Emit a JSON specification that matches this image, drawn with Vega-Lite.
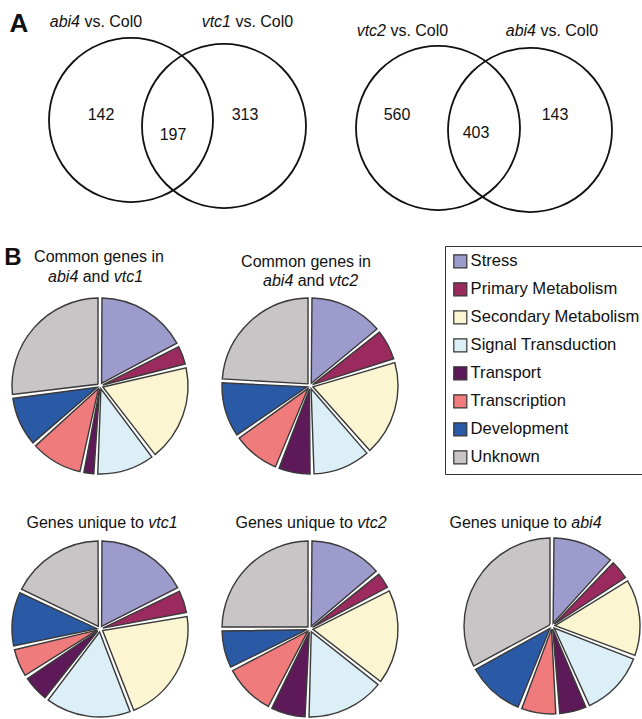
{
  "$schema": "https://vega.github.io/schema/vega-lite/v6.json",
  "padding": 0,
  "background": "white",
  "config": {
    "view": {"stroke": null},
    "font": "Liberation Sans",
    "text": {"font": "Liberation Sans", "fontSize": 16, "color": "#111", "baseline": "middle"},
    "range": {"category": ["#9d9bcb", "#9b2a5e", "#fbf5d2", "#ddeff6", "#5e1a58", "#ef7b7c", "#2a5aa6", "#c9c4c6"]}
  },
  "datasets": {
    "common_vtc1": [
      {"category": "Stress", "genes": 34},
      {"category": "Primary Metabolism", "genes": 8},
      {"category": "Secondary Metabolism", "genes": 36},
      {"category": "Signal Transduction", "genes": 22},
      {"category": "Transport", "genes": 5},
      {"category": "Transcription", "genes": 20},
      {"category": "Development", "genes": 19},
      {"category": "Unknown", "genes": 53}
    ],
    "common_vtc2": [
      {"category": "Stress", "genes": 57},
      {"category": "Primary Metabolism", "genes": 25},
      {"category": "Secondary Metabolism", "genes": 73},
      {"category": "Signal Transduction", "genes": 45},
      {"category": "Transport", "genes": 26},
      {"category": "Transcription", "genes": 37},
      {"category": "Development", "genes": 43},
      {"category": "Unknown", "genes": 97}
    ],
    "unique_vtc1": [
      {"category": "Stress", "genes": 55},
      {"category": "Primary Metabolism", "genes": 15},
      {"category": "Secondary Metabolism", "genes": 68},
      {"category": "Signal Transduction", "genes": 51},
      {"category": "Transport", "genes": 17},
      {"category": "Transcription", "genes": 18},
      {"category": "Development", "genes": 33},
      {"category": "Unknown", "genes": 56}
    ],
    "unique_vtc2": [
      {"category": "Stress", "genes": 78},
      {"category": "Primary Metabolism", "genes": 20},
      {"category": "Secondary Metabolism", "genes": 101},
      {"category": "Signal Transduction", "genes": 84},
      {"category": "Transport", "genes": 39},
      {"category": "Transcription", "genes": 56},
      {"category": "Development", "genes": 42},
      {"category": "Unknown", "genes": 140}
    ],
    "unique_abi4": [
      {"category": "Stress", "genes": 17},
      {"category": "Primary Metabolism", "genes": 6},
      {"category": "Secondary Metabolism", "genes": 21},
      {"category": "Signal Transduction", "genes": 18},
      {"category": "Transport", "genes": 8},
      {"category": "Transcription", "genes": 10},
      {"category": "Development", "genes": 16},
      {"category": "Unknown", "genes": 47}
    ]
  },
  "resolve": {"legend": {"color": "independent"}},
  "spacing": 0,
  "vconcat": [
    {
      "spacing": 0,
      "hconcat": [
        {
          "width": 321,
          "height": 245,
          "resolve": {"scale": {"x": "independent", "y": "independent"}},
          "layer": [
            {
              "data": {"values": [{"set": "abi4"}, {"set": "vtc1"}]},
              "mark": {"type": "point", "shape": "circle", "size": 26896, "filled": false, "stroke": "#111", "strokeWidth": 1.8, "opacity": 1},
              "encoding": {
                "x": {"field": "set", "type": "nominal", "sort": null, "axis": null, "scale": {"type": "point", "padding": 0, "range": [131, 224]}},
                "y": {"field": "set", "type": "nominal", "sort": null, "axis": null, "scale": {"type": "point", "padding": 0, "range": [120, 126]}}
              }
            },
            {
              "data": {"values": [
                {"region": "abi4 only", "kind": "unique", "genes": 142},
                {"region": "both", "kind": "shared", "genes": 197},
                {"region": "vtc1 only", "kind": "unique", "genes": 313}
              ]},
              "mark": {"type": "text", "fontSize": 16},
              "encoding": {
                "x": {"field": "region", "type": "nominal", "sort": null, "axis": null, "scale": {"type": "point", "padding": 0, "range": [101, 245]}},
                "y": {"field": "kind", "type": "nominal", "sort": ["unique", "shared"], "axis": null, "scale": {"type": "point", "padding": 0, "range": [115, 135]}},
                "text": {"field": "genes", "type": "quantitative"}
              }
            },
            {
              "data": {"values": [{"set": "abi4", "name": "abi4", "rest": "vs. Col0"}, {"set": "vtc1", "name": "vtc1", "rest": "vs. Col0"}]},
              "layer": [
                {"mark": {"type": "text", "align": "right", "fontStyle": "italic", "dy": -100.5}, "encoding": {"text": {"field": "name"}}},
                {"mark": {"type": "text", "align": "left", "dx": 4.4, "dy": -100.5}, "encoding": {"text": {"field": "rest"}}}
              ],
              "encoding": {
                "x": {"field": "set", "type": "nominal", "sort": null, "axis": null, "scale": {"type": "point", "padding": 0, "range": [80, 231]}}
              }
            },
            {
              "data": {"values": [{}]},
              "mark": {"type": "text", "text": "A", "fontSize": 26, "fontWeight": "bold", "dx": -141.5, "dy": -99},
              "encoding": {}
            }
          ]
        },
        {
          "width": 321,
          "height": 245,
          "resolve": {"scale": {"x": "independent", "y": "independent"}},
          "layer": [
            {
              "data": {"values": [{"set": "vtc2"}, {"set": "abi4"}]},
              "mark": {"type": "point", "shape": "circle", "size": 26896, "filled": false, "stroke": "#111", "strokeWidth": 1.8, "opacity": 1},
              "encoding": {
                "x": {"field": "set", "type": "nominal", "sort": null, "axis": null, "scale": {"type": "point", "padding": 0, "range": [117, 209]}},
                "y": {"field": "set", "type": "nominal", "sort": null, "axis": null, "scale": {"type": "point", "padding": 0, "range": [128, 130]}}
              }
            },
            {
              "data": {"values": [
                {"region": "vtc2 only", "kind": "unique", "genes": 560},
                {"region": "both", "kind": "shared", "genes": 403},
                {"region": "abi4 only", "kind": "unique", "genes": 143}
              ]},
              "mark": {"type": "text", "fontSize": 16},
              "encoding": {
                "x": {"field": "region", "type": "nominal", "sort": null, "axis": null, "scale": {"type": "point", "padding": 0, "range": [76, 234]}},
                "y": {"field": "kind", "type": "nominal", "sort": ["unique", "shared"], "axis": null, "scale": {"type": "point", "padding": 0, "range": [115, 133]}},
                "text": {"field": "genes", "type": "quantitative"}
              }
            },
            {
              "data": {"values": [{"set": "vtc2", "name": "vtc2", "rest": "vs. Col0"}, {"set": "abi4", "name": "abi4", "rest": "vs. Col0"}]},
              "layer": [
                {"mark": {"type": "text", "align": "right", "fontStyle": "italic", "dy": -91.5}, "encoding": {"text": {"field": "name"}}},
                {"mark": {"type": "text", "align": "left", "dx": 4.4, "dy": -91.5}, "encoding": {"text": {"field": "rest"}}}
              ],
              "encoding": {
                "x": {"field": "set", "type": "nominal", "sort": null, "axis": null, "scale": {"type": "point", "padding": 0, "range": [65, 215]}}
              }
            }
          ]
        }
      ]
    },
    {
      "spacing": 10,
      "resolve": {"legend": {"color": "independent"}},
      "hconcat": [
        {
          "width": 200,
          "height": 256,
          "layer": [
            {
              "data": {"name": "common_vtc1"},
              "transform": [{"window": [{"op": "row_number", "as": "slice"}]}],
              "mark": {"type": "arc", "outerRadius": 88, "innerRadius": 3, "padAngle": 0.045, "stroke": "#3a3a3a", "strokeWidth": 1.4, "yOffset": 12},
              "encoding": {
                "theta": {"field": "genes", "type": "quantitative", "stack": true},
                "order": {"field": "slice", "type": "quantitative"},
                "color": {"field": "category", "type": "nominal", "scale": {"domain": ["Stress", "Primary Metabolism", "Secondary Metabolism", "Signal Transduction", "Transport", "Transcription", "Development", "Unknown"]}, "legend": null}
              }
            },
            {"data": {"values": [{}]}, "mark": {"type": "text", "text": "B", "fontSize": 24, "fontWeight": "bold", "dx": -87, "dy": -116}, "encoding": {}},
            {"data": {"values": [{}]}, "mark": {"type": "text", "text": "Common genes in", "dx": -1, "dy": -117}, "encoding": {}},
            {"data": {"values": [{}]}, "mark": {"type": "text", "text": "abi4", "fontStyle": "italic", "align": "right", "dx": -21.7, "dy": -97}, "encoding": {}},
            {"data": {"values": [{}]}, "mark": {"type": "text", "text": "and", "dx": -4, "dy": -97}, "encoding": {}},
            {"data": {"values": [{}]}, "mark": {"type": "text", "text": "vtc1", "fontStyle": "italic", "align": "left", "dx": 13.7, "dy": -97}, "encoding": {}}
          ]
        },
        {
          "width": 200,
          "height": 256,
          "layer": [
            {
              "data": {"name": "common_vtc2"},
              "transform": [{"window": [{"op": "row_number", "as": "slice"}]}],
              "mark": {"type": "arc", "outerRadius": 88, "innerRadius": 3, "padAngle": 0.045, "stroke": "#3a3a3a", "strokeWidth": 1.4, "yOffset": 12},
              "encoding": {
                "theta": {"field": "genes", "type": "quantitative", "stack": true},
                "order": {"field": "slice", "type": "quantitative"},
                "color": {
                  "field": "category", "type": "nominal",
                  "scale": {"domain": ["Stress", "Primary Metabolism", "Secondary Metabolism", "Signal Transduction", "Transport", "Transcription", "Development", "Unknown"]},
                  "legend": {
                    "orient": "right", "offset": 35, "title": null, "padding": 7,
                    "strokeColor": "#333",
                    "symbolType": "square", "symbolSize": 170, "symbolStrokeColor": "#333", "symbolStrokeWidth": 1.2, "symbolOpacity": 1,
                    "labelFontSize": 16.6, "labelFont": "Liberation Sans", "labelColor": "#111", "labelLimit": 400,
                    "rowPadding": 9, "labelOffset": 2
                  }
                }
              }
            },
            {"data": {"values": [{}]}, "mark": {"type": "text", "text": "Common genes in", "dx": -4, "dy": -112}, "encoding": {}},
            {"data": {"values": [{}]}, "mark": {"type": "text", "text": "abi4", "fontStyle": "italic", "align": "right", "dx": -16.7, "dy": -93}, "encoding": {}},
            {"data": {"values": [{}]}, "mark": {"type": "text", "text": "and", "dx": 1, "dy": -93}, "encoding": {}},
            {"data": {"values": [{}]}, "mark": {"type": "text", "text": "vtc2", "fontStyle": "italic", "align": "left", "dx": 18.7, "dy": -93}, "encoding": {}}
          ]
        }
      ]
    },
    {
      "spacing": 10,
      "resolve": {"legend": {"color": "independent"}},
      "hconcat": [
        {
          "width": 200,
          "height": 254,
          "layer": [
            {
              "data": {"name": "unique_vtc1"},
              "transform": [{"window": [{"op": "row_number", "as": "slice"}]}],
              "mark": {"type": "arc", "outerRadius": 88, "innerRadius": 3, "padAngle": 0.045, "stroke": "#3a3a3a", "strokeWidth": 1.4},
              "encoding": {
                "theta": {"field": "genes", "type": "quantitative", "stack": true},
                "order": {"field": "slice", "type": "quantitative"},
                "color": {"field": "category", "type": "nominal", "scale": {"domain": ["Stress", "Primary Metabolism", "Secondary Metabolism", "Signal Transduction", "Transport", "Transcription", "Development", "Unknown"]}, "legend": null}
              }
            },
            {"data": {"values": [{}]}, "mark": {"type": "text", "text": "Genes unique to", "align": "right", "dx": 43.9, "dy": -106}, "encoding": {}},
            {"data": {"values": [{}]}, "mark": {"type": "text", "text": "vtc1", "fontStyle": "italic", "align": "left", "dx": 48.3, "dy": -106}, "encoding": {}}
          ]
        },
        {
          "width": 200,
          "height": 254,
          "layer": [
            {
              "data": {"name": "unique_vtc2"},
              "transform": [{"window": [{"op": "row_number", "as": "slice"}]}],
              "mark": {"type": "arc", "outerRadius": 88, "innerRadius": 3, "padAngle": 0.045, "stroke": "#3a3a3a", "strokeWidth": 1.4},
              "encoding": {
                "theta": {"field": "genes", "type": "quantitative", "stack": true},
                "order": {"field": "slice", "type": "quantitative"},
                "color": {"field": "category", "type": "nominal", "scale": {"domain": ["Stress", "Primary Metabolism", "Secondary Metabolism", "Signal Transduction", "Transport", "Transcription", "Development", "Unknown"]}, "legend": null}
              }
            },
            {"data": {"values": [{}]}, "mark": {"type": "text", "text": "Genes unique to", "align": "right", "dx": 42.9, "dy": -106}, "encoding": {}},
            {"data": {"values": [{}]}, "mark": {"type": "text", "text": "vtc2", "fontStyle": "italic", "align": "left", "dx": 47.3, "dy": -106}, "encoding": {}}
          ]
        },
        {
          "width": 264,
          "height": 254,
          "layer": [
            {
              "data": {"name": "unique_abi4"},
              "transform": [{"window": [{"op": "row_number", "as": "slice"}]}],
              "mark": {"type": "arc", "outerRadius": 88, "innerRadius": 3, "padAngle": 0.045, "stroke": "#3a3a3a", "strokeWidth": 1.4, "yOffset": -3},
              "encoding": {
                "theta": {"field": "genes", "type": "quantitative", "stack": true},
                "order": {"field": "slice", "type": "quantitative"},
                "color": {"field": "category", "type": "nominal", "scale": {"domain": ["Stress", "Primary Metabolism", "Secondary Metabolism", "Signal Transduction", "Transport", "Transcription", "Development", "Unknown"]}, "legend": null}
              }
            },
            {"data": {"values": [{}]}, "mark": {"type": "text", "text": "Genes unique to", "align": "right", "dx": 14.9, "dy": -106}, "encoding": {}},
            {"data": {"values": [{}]}, "mark": {"type": "text", "text": "abi4", "fontStyle": "italic", "align": "left", "dx": 19.3, "dy": -106}, "encoding": {}}
          ]
        }
      ]
    }
  ]
}
